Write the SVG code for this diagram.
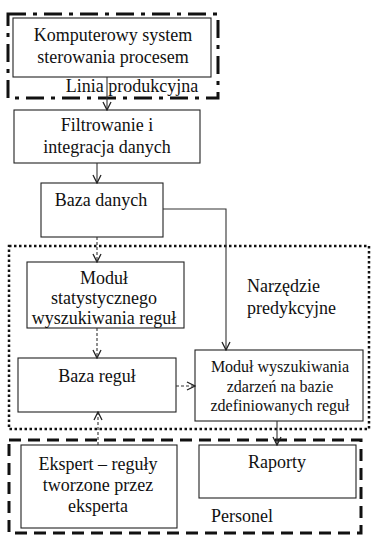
<svg xmlns="http://www.w3.org/2000/svg" width="372" height="535" viewBox="0 0 372 535">
<defs>
<marker id="ah" viewBox="0 0 10 10" refX="9" refY="5" markerWidth="10" markerHeight="10" markerUnits="userSpaceOnUse" orient="auto">
<path d="M1,1 L9,5 L1,9" fill="none" stroke="#222" stroke-width="1.3"/>
</marker>
</defs>
<style>
.box{fill:#fff;stroke:#222;stroke-width:1.1}
.lbl{font-family:"Liberation Serif",serif;font-size:18px;fill:#111;text-anchor:middle}
.st{text-anchor:start}
.sm{font-size:16px}
.c{fill:none;stroke:#333;stroke-width:1.1}
.cd{fill:none;stroke:#333;stroke-width:1.1;stroke-dasharray:3 2}
.g1{fill:none;stroke:#111;stroke-width:3;stroke-dasharray:18 7 4 7}
.g2{fill:none;stroke:#111;stroke-width:2.5;stroke-dasharray:2.5 2.5}
.g3{fill:none;stroke:#111;stroke-width:3;stroke-dasharray:12 7}
</style>
<g id="group-linia">
<rect class="g1" x="8" y="14" width="210" height="84"/>
<text class="lbl" x="132" y="92">Linia produkcyjna</text>
</g>
<g id="group-narzedzie">
<rect class="g2" x="9" y="246" width="360" height="183"/>
<text class="lbl st" x="247" y="292">Narzędzie</text>
<text class="lbl st" x="247" y="314">predykcyjne</text>
</g>
<g id="group-personel">
<rect class="g3" x="9" y="440" width="352" height="93"/>
<text class="lbl st" x="211" y="522">Personel</text>
</g>
<g id="node-komputerowy">
<rect class="box" x="13" y="18" width="198" height="59"/>
<text class="lbl" x="113" y="41">Komputerowy system</text>
<text class="lbl" x="113" y="63">sterowania procesem</text>
</g>
<g id="node-filtrowanie">
<rect class="box" x="14" y="110" width="186" height="53"/>
<text class="lbl" x="107" y="131">Filtrowanie i</text>
<text class="lbl" x="107" y="153">integracja danych</text>
</g>
<g id="node-baza-danych">
<rect class="box" x="41" y="183" width="122" height="54"/>
<text class="lbl" x="101" y="206">Baza danych</text>
</g>
<g id="node-modul-stat">
<rect class="box" x="27" y="262" width="157" height="66"/>
<text class="lbl" x="104" y="284">Moduł</text>
<text class="lbl" x="104" y="304">statystycznego</text>
<text class="lbl" x="104" y="324">wyszukiwania reguł</text>
</g>
<g id="node-baza-regul">
<rect class="box" x="18" y="358" width="158" height="54"/>
<text class="lbl" x="97" y="382">Baza reguł</text>
</g>
<g id="node-modul-wysz">
<rect class="box" x="195" y="350" width="168" height="71"/>
<text class="lbl sm" x="280" y="372">Moduł wyszukiwania</text>
<text class="lbl sm" x="280" y="392">zdarzeń na bazie</text>
<text class="lbl sm" x="280" y="411">zdefiniowanych reguł</text>
</g>
<g id="node-ekspert">
<rect class="box" x="21" y="445" width="156" height="83"/>
<text class="lbl" x="98" y="470">Ekspert – reguły</text>
<text class="lbl" x="98" y="491">tworzone przez</text>
<text class="lbl" x="98" y="512">eksperta</text>
</g>
<g id="node-raporty">
<rect class="box" x="199" y="445" width="157" height="53"/>
<text class="lbl" x="277" y="468">Raporty</text>
</g>
<g id="connectors">
<path class="c" d="M107,77 V110" marker-end="url(#ah)"/>
<path class="c" d="M97,163 V183" marker-end="url(#ah)"/>
<path class="c" d="M163,209 H226 V350" marker-end="url(#ah)"/>
<path class="cd" d="M97,237 V262" marker-end="url(#ah)"/>
<path class="cd" d="M97,328 V358" marker-end="url(#ah)"/>
<path class="cd" d="M176,386 H195" marker-end="url(#ah)"/>
<path class="c" d="M277,421 V445" marker-end="url(#ah)"/>
<path class="cd" d="M98,445 V412" marker-end="url(#ah)"/>
</g>
</svg>
